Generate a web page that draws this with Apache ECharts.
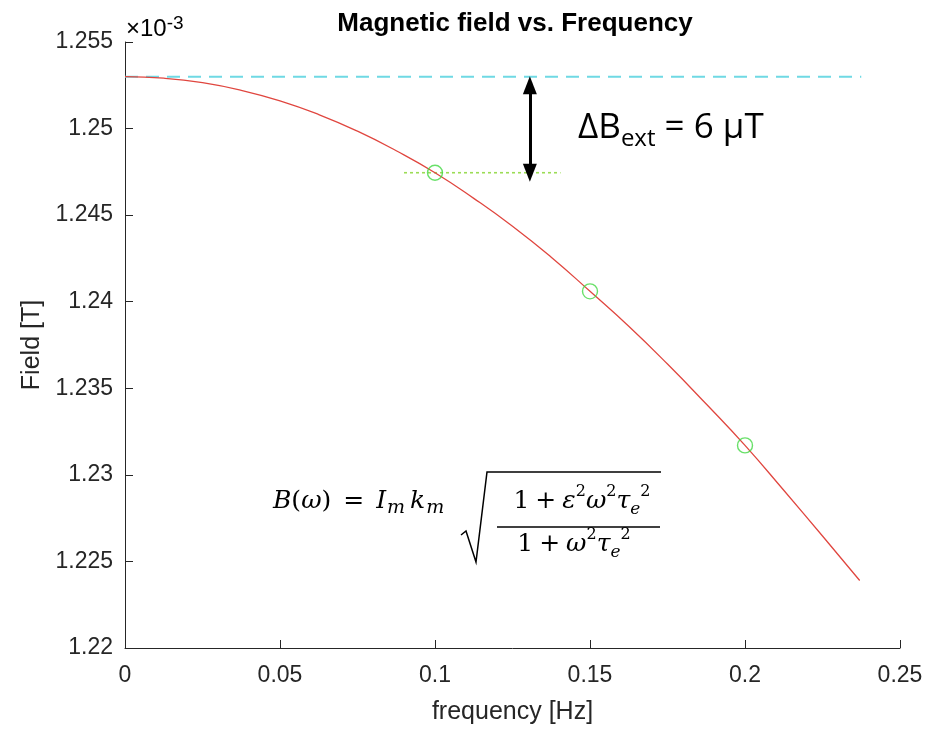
<!DOCTYPE html>
<html><head><meta charset="utf-8">
<script src="https://cdn.jsdelivr.net/npm/echarts@6/dist/echarts.min.js"></script>
<style>html,body{margin:0;padding:0;background:#fff;overflow:hidden}#c{width:935px;height:730px}</style>
</head><body><div id="c"></div>
<script>
// ---- data (field in units of 1e-3 T) ----
const curveFreq  = [0, 0.0125, 0.025, 0.0375, 0.05, 0.0625, 0.075, 0.0875, 0.1, 0.1125, 0.125, 0.1375, 0.15, 0.1625, 0.175, 0.1875, 0.2, 0.2125, 0.225, 0.237];
const curveField = [1.25300, 1.25291, 1.25265, 1.25221, 1.25160, 1.25081, 1.24985, 1.24872, 1.24745, 1.24597, 1.24436, 1.24257, 1.24060, 1.23858, 1.23640, 1.23409, 1.23170, 1.22911, 1.22647, 1.22390];
const sampleFreq  = [0.1, 0.15, 0.2];
const sampleField = [1.24745, 1.2406, 1.2317];
const refLevel = 1.253;          // cyan dashed level
const refLineX = [0, 0.2375];
const dotLineX = [0.09, 0.1405]; // green dotted line at first sample level
const arrowX = 0.1306;
const arrowEnds = [1.2525, 1.24745];
const xTickLabels = ['0', '0.05', '0.1', '0.15', '0.2', '0.25'];
const yTickLabels = ['1.22', '1.225', '1.23', '1.235', '1.24', '1.245', '1.25', '1.255'];

const chart = echarts.init(document.getElementById('c'), null, {renderer: 'canvas', width: 935, height: 730});
const axisCol = '#262626';
const sans = '"Liberation Sans", Arial, sans-serif';
const serif = '"DejaVu Serif", "Liberation Serif", serif';

const mainF = {fontFamily: serif, fontSize: 25, fontStyle: 'italic', lineHeight: 34, color: '#000'};
const romF  = {fontFamily: serif, fontSize: 25, lineHeight: 34, color: '#000'};
const opF   = {fontFamily: serif, fontSize: 25, lineHeight: 34, color: '#000', padding: [0, 6, 0, 6]};
const eqF   = {fontFamily: serif, fontSize: 25, lineHeight: 34, color: '#000', padding: [0, 12, 0, 12]};
const supF  = {fontFamily: serif, fontSize: 16, lineHeight: 20, verticalAlign: 'top', color: '#000'};
const subF  = {fontFamily: serif, fontSize: 17, fontStyle: 'italic', lineHeight: 16, verticalAlign: 'bottom', color: '#000'};
const subM  = {fontFamily: serif, fontSize: 19, fontStyle: 'italic', lineHeight: 16, verticalAlign: 'bottom', color: '#000', padding: [0, 5, 0, 1]};
const richF = {i: mainF, r: romF, o: opF, q: eqF, sup: supF, sub: subF, sm: subM};

chart.setOption({
  animation: false,
  title: {
    text: 'Magnetic field vs. Frequency', left: 510, top: 6, textAlign: 'center',
    textStyle: {fontFamily: sans, fontSize: 26, fontWeight: 'bold', color: '#000'}
  },
  grid: {left: 125, width: 775, top: 42, height: 612},
  xAxis: {
    type: 'value', min: 0, max: 0.25, interval: 0.05,
    name: 'frequency [Hz]', nameLocation: 'middle', nameGap: 52,
    nameTextStyle: {fontFamily: sans, fontSize: 25, color: axisCol},
    axisLine: {lineStyle: {color: axisCol, width: 1}},
    axisTick: {inside: true, length: 8, lineStyle: {color: axisCol}},
    axisLabel: {fontFamily: sans, fontSize: 23, color: axisCol, margin: 16,
      formatter: v => xTickLabels[Math.round(v / 0.05)]},
    splitLine: {show: false}
  },
  yAxis: {
    type: 'value', min: 1.22, max: 1.255, interval: 0.005,
    name: 'Field [T]', nameLocation: 'middle', nameGap: 80, nameRotate: 90,
    nameTextStyle: {fontFamily: sans, fontSize: 25, color: axisCol},
    axisLine: {show: true, lineStyle: {color: axisCol, width: 1}},
    axisTick: {show: true, inside: true, length: 8, lineStyle: {color: axisCol}},
    axisLabel: {fontFamily: sans, fontSize: 23, color: axisCol, margin: 12,
      formatter: v => yTickLabels[Math.round((v - 1.22) / 0.005)]},
    splitLine: {show: false}
  },
  series: [
    {
      type: 'line', data: refLineX.map(x => [x, refLevel]), symbol: 'none',
      lineStyle: {color: '#6fd9e4', width: 2, type: [13, 8]}, silent: true, z: 1
    },
    {
      type: 'line', data: curveFreq.map((f, i) => [f, curveField[i]]), symbol: 'none', smooth: true,
      lineStyle: {color: '#e0463f', width: 1.3}, z: 3
    },
    {
      type: 'line', data: dotLineX.map(x => [x, sampleField[0]]), symbol: 'none',
      lineStyle: {color: '#9bdc55', width: 1.6, type: [3, 3]}, z: 2
    },
    {
      type: 'scatter', data: sampleFreq.map((f, i) => [f, sampleField[i]]), symbol: 'circle', symbolSize: 15,
      itemStyle: {color: 'rgba(0,0,0,0)', borderColor: '#44d844', borderWidth: 1.4}, z: 4
    },
    {
      type: 'line', data: [], symbol: 'none',
      markLine: {
        silent: true, symbol: ['triangle', 'triangle'], symbolSize: [14, 18],
        label: {show: false},
        lineStyle: {color: '#000', width: 3, type: 'solid'},
        data: [[{coord: [arrowX, arrowEnds[0]]}, {coord: [arrowX, arrowEnds[1]]}]]
      }
    }
  ],
  graphic: [
    // ×10^-3 multiplier
    {type: 'text', x: 126, y: 29, style: {
      text: '{a|×10}{s|-3}', verticalAlign: 'middle', align: 'left',
      rich: {a: {fontFamily: sans, fontSize: 24, color: axisCol, lineHeight: 30},
             s: {fontFamily: sans, fontSize: 19, color: axisCol, lineHeight: 20, verticalAlign: 'top'}}
    }},
    // ΔB_ext = 6 μT
    {type: 'text', x: 578, y: 128, style: {
      text: '{a|ΔB}{s|ext}{a| = 6 μT}', verticalAlign: 'middle', align: 'left',
      rich: {a: {fontFamily: '"Open Sans", Lato, sans-serif', fontSize: 35, color: '#000', lineHeight: 46},
             s: {fontFamily: '"Open Sans", Lato, sans-serif', fontSize: 24, color: '#000', lineHeight: 20, verticalAlign: 'bottom'}}
    }},
    // formula left part
    {type: 'text', x: 273, y: 501, style: {
      text: '{i|B}{r|(}{i|ω}{r|)}{q|=}{i|I}{sm|m}{i|k}{sm|m}', verticalAlign: 'middle', align: 'left', rich: richF
    }},
    // numerator
    {type: 'text', x: 582, y: 501, style: {
      text: '{r|1}{o|+}{i|ε}{sup|2}{i|ω}{sup|2}{i|τ}{sub|e}{sup|2}', verticalAlign: 'middle', align: 'center', rich: richF
    }},
    // denominator
    {type: 'text', x: 574, y: 544, style: {
      text: '{r|1}{o|+}{i|ω}{sup|2}{i|τ}{sub|e}{sup|2}', verticalAlign: 'middle', align: 'center', rich: richF
    }},
    // fraction bar
    {type: 'line', shape: {x1: 497, y1: 527, x2: 660, y2: 527}, style: {stroke: '#000', lineWidth: 1.5}},
    // radical
    {type: 'polyline', shape: {points: [[461, 535], [466, 531], [476, 562], [487, 472], [661, 472]]},
      style: {stroke: '#000', lineWidth: 1.5, fill: null}}
  ]
});
</script>
</body></html>
